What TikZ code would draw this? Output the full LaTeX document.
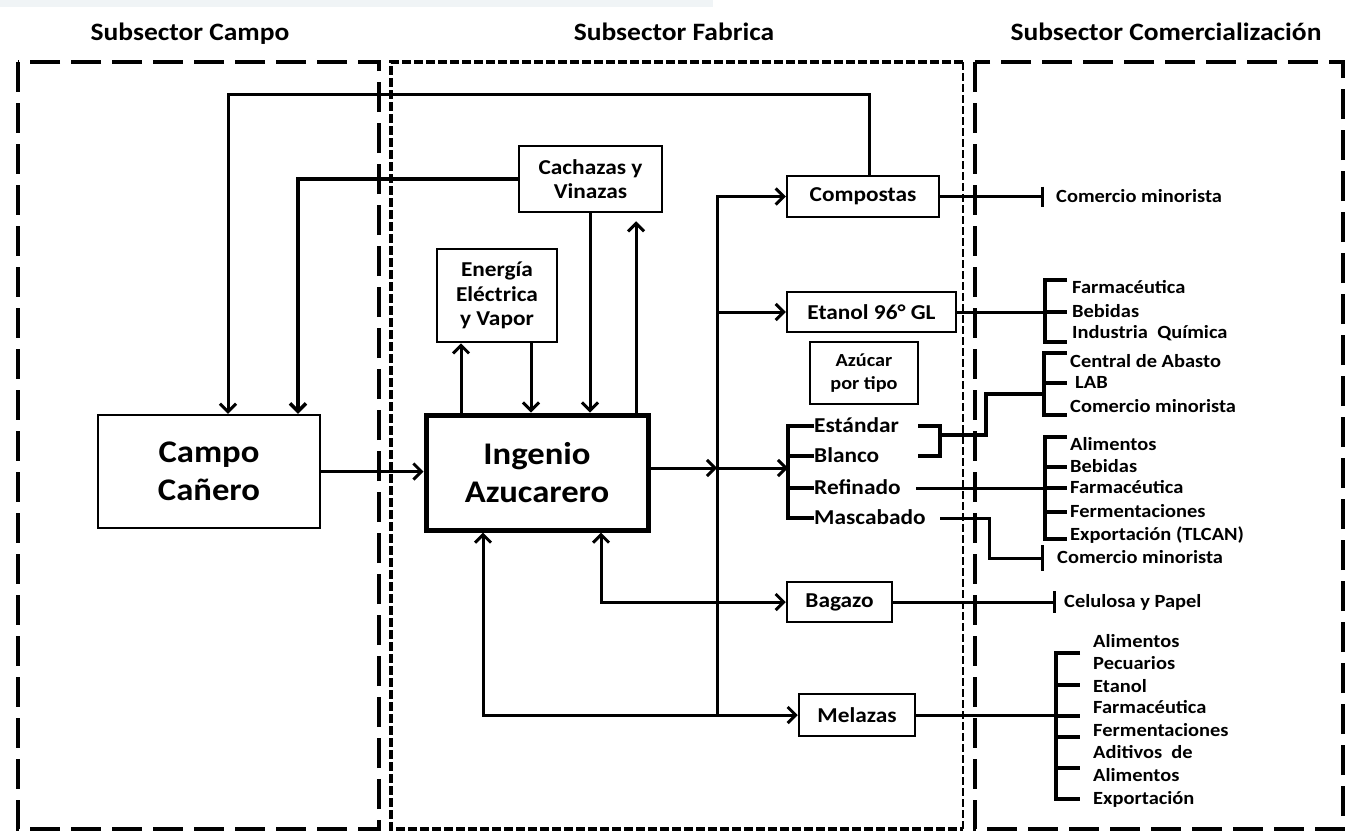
\documentclass[tikz,border=0pt]{standalone}
\usepackage{fontspec}
\setmainfont{Carlito}[FakeStretch=1.1]
\usetikzlibrary{arrows.meta}
\definecolor{band}{RGB}{240,244,246}
\begin{document}
\begin{tikzpicture}[x=1pt,y=-1pt,
  every node/.style={inner sep=0pt},
  ln/.style={line width=3pt},
  brk/.style={line width=4pt},
  tipA/.tip={Straight Barb[length=8pt,width=16pt]},
  arr/.style={ln,-tipA},
  darr/.style={ln,tipA-tipA},
  box/.style={draw,line width=2.5pt,align=center},
  ttl/.style={font=\fontsize{25}{30}\selectfont\bfseries,text height=15.8pt,text depth=0pt},
  fbig/.style={font=\fontsize{31.5}{38}\selectfont\bfseries},
  fmid/.style={font=\fontsize{21.2}{24.5}\selectfont\bfseries},
  fsml/.style={font=\fontsize{18.4}{23}\selectfont\bfseries},
  slab/.style={fmid,anchor=west,text height=13.4pt,text depth=0pt},
  lst/.style={font=\fontsize{18.6}{22}\selectfont\bfseries,anchor=west,text height=11.8pt,text depth=0pt},
  sector/.style={line width=3.5pt,dash pattern=on 30pt off 11pt}
]
\useasboundingbox (0,0) rectangle (1345,833);
\fill[band] (0,0) rectangle (713,7);

% sector frames
\draw[sector] (18,62) rectangle (379,829);
\draw[line width=3.5pt,dash pattern=on 9pt off 3pt] (963,62) -- (391,62) -- (391,829) -- (963,829);
\draw[line width=2pt,dash pattern=on 8pt off 3pt] (963,62) -- (963,829);
\draw[sector] (975,62) rectangle (1343,829);

% titles
\node[ttl] (t1) at (190,33) {Subsector Campo};
\node[ttl] (t2) at (674,33) {Subsector Fabrica};
\node[ttl] (t3) at (1166,33) {Subsector Comercialización};

% boxes
\node[box,minimum width=222pt,minimum height=113pt,fbig] (campo) at (209,471.5) {Campo\\Cañero};
\node[box,line width=5pt,minimum width=222pt,minimum height=115pt,fbig] (ingenio) at (537,472.5) {Ingenio\\Azucarero};
\node[box,minimum width=120pt,minimum height=93pt,fmid] (energia) at (497,295.5) {Energía\\Eléctrica\\y Vapor};
\node[box,minimum width=143pt,minimum height=66pt,fmid] (cachazas) at (590.5,179) {Cachazas y\\Vinazas};
\node[box,minimum width=152pt,minimum height=41pt,fmid] (compostas) at (863,196.5) {Compostas};
\node[box,minimum width=169pt,minimum height=40pt,fmid] (etanol) at (871.5,312) {Etanol 96° GL};
\node[box,minimum width=108pt,minimum height=62pt,fsml] (azucar) at (864,373) {Azúcar\\por tipo};
\node[box,minimum width=105pt,minimum height=40pt,fmid] (bagazo) at (839.5,602) {Bagazo};
\node[box,minimum width=116pt,minimum height=42pt,fmid] (melazas) at (857,715) {Melazas};

% sugar types
\node[slab] (estandar) at (814,426) {Estándar};
\node[slab] (blanco) at (814,456) {Blanco};
\node[slab] (refinado) at (814,488) {Refinado};
\node[slab] (mascabado) at (814,518) {Mascabado};

% market labels
\node[lst] (cm1) at (1056,197) {Comercio minorista};
\node[lst] (far1) at (1072,288) {Farmacéutica};
\node[lst] (beb1) at (1072,312) {Bebidas};
\node[lst] (ind1) at (1072,333) {Industria~ Química};
\node[lst] (cab) at (1070,362) {Central de Abasto};
\node[lst] (lab) at (1075,383) {LAB};
\node[lst] (cm2) at (1070,407) {Comercio minorista};
\node[lst] (ali1) at (1070,445) {Alimentos};
\node[lst] (beb2) at (1070,467) {Bebidas};
\node[lst] (far2) at (1070,488) {Farmacéutica};
\node[lst] (fer1) at (1070,512) {Fermentaciones};
\node[lst] (exp1) at (1070,535) {Exportación (TLCAN)};
\node[lst] (cm3) at (1057,558) {Comercio minorista};
\node[lst] (cel) at (1064,602) {Celulosa y Papel};
\node[lst] (ali2) at (1093,642) {Alimentos};
\node[lst] (pec) at (1093,664) {Pecuarios};
\node[lst] (eta2) at (1093,687) {Etanol};
\node[lst] (far3) at (1093,708) {Farmacéutica};
\node[lst] (fer2) at (1093,731) {Fermentaciones};
\node[lst] (adi) at (1093,753) {Aditivos~ de};
\node[lst] (ali3) at (1093,776) {Alimentos};
\node[lst] (exp2) at (1093,799) {Exportación};

% helper coordinates
\coordinate (eup) at (461,0);
\coordinate (edn) at (531,0);
\coordinate (cdn) at (590,0);
\coordinate (cup) at (636,0);
\coordinate (loopx) at (228,94);
\coordinate (cachx) at (298,0);
\coordinate (compx) at (869,0);
\coordinate (ingy) at (0,468);
\coordinate (bagx) at (601,0);
\coordinate (melx) at (483,0);
\coordinate (bus) at (717,0);
\coordinate (sb) at (788,0);
\coordinate (eb1) at (918,426);
\coordinate (eb2) at (918,456);
\coordinate (ebx) at (940,435);
\coordinate (ebk) at (986,394);
\coordinate (refx) at (916,488);
\coordinate (mx1) at (940,518);
\coordinate (mx2) at (989,558);
\coordinate (b1t) at (1045,280);
\coordinate (b1b) at (1045,342);
\coordinate (b1e) at (1067,0);
\coordinate (b2t) at (1044,353);
\coordinate (b2b) at (1044,415);
\coordinate (b3t) at (1045,437);
\coordinate (b3b) at (1045,539);
\coordinate (b4t) at (1056,653);
\coordinate (b4b) at (1056,799);
\coordinate (b4e) at (1080,0);

% main flows
\draw[arr] (campo.east) -- (campo.east -| ingenio.west);
\draw[arr] (ingenio.north -| eup) -- (energia.south -| eup);
\draw[arr] (energia.south -| edn) -- (ingenio.north -| edn);
\draw[arr] (cachazas.south -| cdn) -- (ingenio.north -| cdn);
\draw[arr,shorten >=8pt] (ingenio.north -| cup) -- (cachazas.south -| cup);
\draw[arr,line width=3.5pt] (cachazas.west) -| (cachx |- campo.north);
\draw[arr] (compostas.north -| compx) |- (loopx) -- (loopx |- campo.north);

% bus
\draw[arr] (bus |- melazas.west) -- (bus |- compostas.west) -- (compostas.west);
\draw[arr] (bus |- etanol.west) -- (etanol.west);
\draw[arr] (ingenio.east |- ingy) -- (bus |- ingy);
\draw[arr] (bus |- ingy) -- (sb |- ingy);
\draw[darr] (ingenio.south -| bagx) |- (bagazo.west);
\draw[darr] (ingenio.south -| melx) |- (melazas.west);

% sugar bracket
\draw[brk] (estandar.west) -- (sb |- estandar.west) -- (sb |- mascabado.west) -- (mascabado.west);
\draw[brk] (sb |- blanco.west) -- (blanco.west);
\draw[brk] (sb |- refinado.west) -- (refinado.west);
\draw[brk] (eb1) -| (ebx |- eb2) -- (eb2);
\draw[brk] (ebx) -| (ebk) -- (ebk -| b2t);

% compostas
\draw[ln,-{Bar[width=20pt]}] (compostas.east) -- (compostas.east -| b2t);

% etanol list
\draw[ln] (etanol.east) -- (etanol.east -| b1t);
\draw[brk] (b1e |- b1t) -- (b1t) -- (b1b) -- (b1e |- b1b);
\draw[brk] (b1t |- beb1.west) -- (b1e |- beb1.west);

% azucar list 1
\draw[brk] (b1e |- b2t) -- (b2t) -- (b2b) -- (b1e |- b2b);
\draw[brk] (b2t |- lab.west) -- (b1e |- lab.west);

% refinado list
\draw[ln] (refx) -- (refx -| b3t);
\draw[brk] (b1e |- b3t) -- (b3t) -- (b3b) -- (b1e |- b3b);
\draw[brk] (b3t |- beb2.west) -- (b1e |- beb2.west);
\draw[brk] (b3t |- far2.west) -- (b1e |- far2.west);
\draw[brk] (b3t |- fer1.west) -- (b1e |- fer1.west);

% mascabado
\draw[ln,-{Bar[width=26pt]}] (mx1) -| (mx2) -- (mx2 -| b2t);

% bagazo
\draw[ln,-{Bar[width=22pt]}] (bagazo.east) -- (bagazo.east -| b4t);

% melazas list
\draw[ln] (melazas.east) -- (melazas.east -| b4t);
\draw[brk] (b4e |- b4t) -- (b4t) -- (b4b) -- (b4e |- b4b);
\foreach \yy in {685,716,737,768} \draw[brk] (b4t |- 0,\yy) -- (b4e |- 0,\yy);
\end{tikzpicture}
\end{document}
